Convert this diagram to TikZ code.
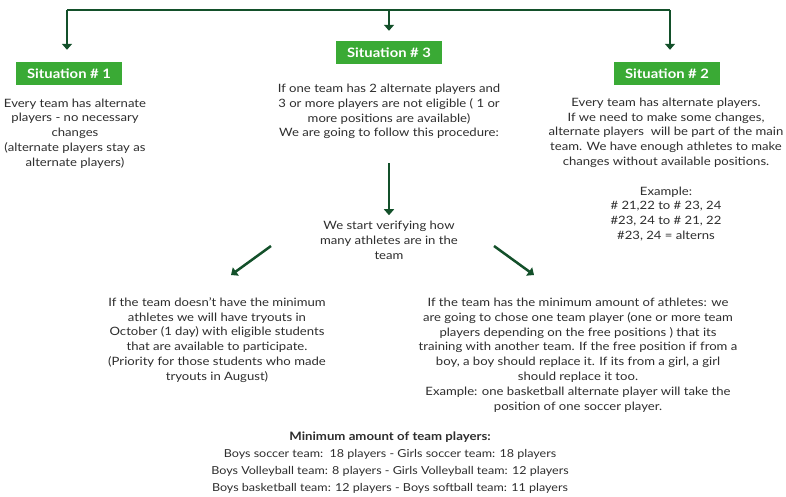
\documentclass[tikz,border=0pt]{standalone}
\usepackage{fontspec}
\setmainfont{Lato}[FakeStretch=1.14]
\usetikzlibrary{arrows.meta}
\definecolor{arrowgreen}{HTML}{13502A}
\definecolor{boxgreen}{HTML}{3AAA35}
\definecolor{txt}{HTML}{2E2E2E}
\tikzset{
  arr/.style={draw=arrowgreen, line width=2.5pt, -{Triangle[length=6pt,width=10pt]}},
  bar/.style={draw=arrowgreen, line width=2.5pt},
  sitbox/.style={fill=boxgreen, text=white, font=\fontsize{13}{15}\selectfont\bfseries, minimum width=106pt, minimum height=23pt, inner sep=0pt},
  body/.style={text=txt, align=center, font=\fontsize{11.5}{14.8}\selectfont, inner sep=0pt},
  minbody/.style={text=txt, align=center, font=\fontsize{11}{17}\selectfont, inner sep=0pt}
}
\begin{document}
\begin{tikzpicture}[x=1pt,y=-1pt]
\useasboundingbox (0,0) rectangle (786,496);
\fill[white] (0,0) rectangle (786,496);

\coordinate (topL) at (67,10);
\coordinate (topM) at (389,10);
\coordinate (topR) at (670,10);

\node[sitbox] (sit1) at (69,73.5) {Situation \# 1};
\node[sitbox] (sit3) at (389,52.5) {Situation \# 3};
\node[sitbox] (sit2) at (667,73.5) {Situation \# 2};

\node[body] (t1) at (75,133.5) {Every team has alternate\\players - no necessary\\changes\\(alternate players stay as\\alternate players)};
\node[body] (t3) at (389,111.5) {If one team has 2 alternate players and\\3 or more players are not eligible ( 1 or\\more positions are available)\\We are going to follow this procedure:};
\node[body] (t2) at (666,169.5) {Every team has alternate players.\\If we need to make some changes,\\alternate players\ \ will be part of the main\\team. We have enough athletes to make\\changes without available positions.\\[14.8pt]Example:\\\# 21,22 to \# 23, 24\\\#23, 24 to \# 21, 22\\\#23, 24 = alterns};

\node[body] (verify) at (389,240.5) {We start verifying how\\many athletes are in the\\team};

\node[body] (left) at (217,340) {If the team doesn't have the minimum\\athletes we will have tryouts in\\October (1 day) with eligible students\\that are available to participate.\\(Priority for those students who made\\tryouts in August)};

\node[body] (right) at (578,355) {If the team has the minimum amount of athletes: we\\are going to chose one team player (one or more team\\players depending on the free positions ) that its\\training with another team. If the free position if from a\\boy, a boy should replace it. If its from a girl, a girl\\should replace it too.\\Example: one basketball alternate player will take the\\position of one soccer player.};

\node[minbody] (mintxt) at (390,463) {{\fontsize{11.6}{17}\selectfont\textbf{Minimum amount of team players:}}\\Boys soccer team:\ \ 18 players - Girls soccer team: 18 players\\Boys Volleyball team: 8 players - Girls Volleyball team: 12 players\\Boys basketball team: 12 players - Boys softball team: 11 players};

% top connector
\draw[bar] (topL) -- (topR);
\draw[arr] (topL) -- ([yshift=12pt]topL |- sit1.north);
\draw[arr] (topM) -- ([yshift=10pt]topM |- sit3.north);
\draw[arr] (topR) -- ([yshift=12pt]topR |- sit2.north);

% down arrow
\coordinate (vstart) at (389,163);
\draw[arr] (vstart) -- ([yshift=6pt]verify.north);

% diagonal arrows
\coordinate (dl1) at (271,246);
\coordinate (dl2) at (231,275);
\coordinate (dr1) at (494,246);
\coordinate (dr2) at (534,275);
\draw[arr] (dl1) -- (dl2);
\draw[arr] (dr1) -- (dr2);
\end{tikzpicture}
\end{document}
